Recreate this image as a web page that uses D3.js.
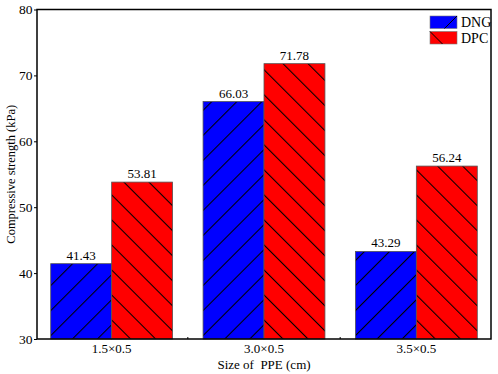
<!DOCTYPE html>
<html>
<head>
<meta charset="utf-8">
<script src="https://cdn.jsdelivr.net/npm/d3@7"></script>
<style>
	body { margin: 0; background: #fff; }
</style>
</head>
<body>
<div id="chart"></div>
<script>
// data
var sizes = ["1.5×0.5", "3.0×0.5", "3.5×0.5"];
var seriesNames = ["DNG", "DPC"];
var dngValues = [41.43, 66.03, 43.29];
var dpcValues = [53.81, 71.78, 56.24];
var yTicks = [30, 40, 50, 60, 70, 80];

var seriesColors = ["#0000ff", "#ff0000"];
var hatchRotate = [45, -45];
var FONT = "'Liberation Serif', 'Times New Roman', 'DejaVu Serif', serif";

// set the dimensions and margins of the graph
var margin = {top: 9.5, right: 7, bottom: 35, left: 37},
	width = 498 - margin.left - margin.right,
	height = 374 - margin.top - margin.bottom;

var svg = d3.select("#chart")
	.append("svg")
	.attr("width", width + margin.left + margin.right)
	.attr("height", height + margin.top + margin.bottom)
	.style("font-family", FONT);

// hatch patterns
var defs = svg.append("defs");
seriesNames.forEach(function(name, i) {
	var p = defs.append("pattern")
		.attr("id", "hatch-" + name)
		.attr("patternUnits", "userSpaceOnUse")
		.attr("width", 17.7)
		.attr("height", 10)
		.attr("patternTransform", "rotate(" + hatchRotate[i] + ")");
	p.append("rect")
		.attr("width", 17.7)
		.attr("height", 10)
		.attr("fill", seriesColors[i]);
	p.append("line")
		.attr("x1", 0.5).attr("x2", 0.5)
		.attr("y1", 0).attr("y2", 10)
		.attr("stroke", "#000")
		.attr("stroke-width", 1.1);
});

var g = svg.append("g")
	.attr("transform", "translate(" + margin.left + "," + margin.top + ")");

// scales
var x0 = d3.scaleBand()
	.domain(sizes)
	.range([0, width])
	.paddingInner(0.2)
	.paddingOuter(0.09);

var x1 = d3.scaleBand()
	.domain(seriesNames)
	.range([0, x0.bandwidth()]);

var y = d3.scaleLinear()
	.domain([30, 80])
	.range([height, 0]);

var rows = sizes.map(function(s, i) {
	return {size: s, values: [
		{name: "DNG", value: dngValues[i]},
		{name: "DPC", value: dpcValues[i]}
	]};
});

// bars
var groups = g.append("g")
	.selectAll("g")
	.data(rows)
	.enter()
	.append("g")
	.attr("transform", d => "translate(" + x0(d.size) + ",0)");

groups.selectAll("rect")
	.data(d => d.values)
	.enter()
	.append("rect")
	.attr("x", d => x1(d.name))
	.attr("y", d => y(d.value))
	.attr("width", x1.bandwidth())
	.attr("height", d => height - y(d.value))
	.attr("fill", d => "url(#hatch-" + d.name + ")")
	.attr("stroke", "#555")
	.attr("stroke-width", 0.8);

groups.selectAll("text")
	.data(d => d.values)
	.enter()
	.append("text")
	.attr("x", d => x1(d.name) + x1.bandwidth() / 2)
	.attr("y", d => y(d.value) - 4)
	.attr("text-anchor", "middle")
	.style("font-family", FONT)
	.style("font-size", "13px")
	.text(d => d.value.toFixed(2));

// Y axis
var yAxis = g.append("g")
	.call(d3.axisLeft(y)
		.tickValues(yTicks)
		.tickSize(3)
		.tickPadding(1.5));
yAxis.attr("font-family", null);
yAxis.selectAll("text")
	.style("font-family", FONT)
	.style("font-size", "13.5px");
yAxis.select(".domain").remove();

// X axis
var xAxis = g.append("g")
	.attr("transform", "translate(0," + height + ")")
	.call(d3.axisBottom(x0)
		.tickSize(0)
		.tickPadding(5));
xAxis.attr("font-family", null);
xAxis.selectAll("text")
	.style("font-family", FONT)
	.style("font-size", "13px");
xAxis.select(".domain").remove();

// small inner ticks between groups
g.append("g")
	.selectAll("line")
	.data(sizes.slice(1))
	.enter()
	.append("line")
	.attr("x1", d => x0(d) - x0.step() * x0.paddingInner() / 2)
	.attr("x2", d => x0(d) - x0.step() * x0.paddingInner() / 2)
	.attr("y1", height)
	.attr("y2", height - 2)
	.attr("stroke", "#000");

// frame
g.append("rect")
	.attr("width", width)
	.attr("height", height)
	.attr("fill", "none")
	.attr("stroke", "#000")
	.attr("stroke-width", 1.5);

// axis titles
svg.append("text")
	.attr("transform", "translate(15," + (margin.top + height / 2) + ")rotate(-90)")
	.attr("text-anchor", "middle")
	.style("font-family", FONT)
	.style("font-size", "12.5px")
	.text("Compressive strength (kPa)");

svg.append("text")
	.attr("x", margin.left + width / 2)
	.attr("y", 369)
	.attr("text-anchor", "middle")
	.style("font-family", FONT)
	.style("font-size", "13px")
	.style("white-space", "pre")
	.text("Size of  PPE (cm)");

// legend
var legend = svg.append("g")
	.attr("transform", "translate(430,16)");
var lg = legend.selectAll("g")
	.data(seriesNames)
	.enter()
	.append("g")
	.attr("transform", (d, i) => "translate(0," + i * 15.5 + ")");
lg.append("rect")
	.attr("width", 27)
	.attr("height", 12.5)
	.attr("fill", (d, i) => seriesColors[i])
	.attr("stroke", "#777")
	.attr("stroke-width", 0.6);
lg.append("line")
	.attr("x1", (d, i) => i === 0 ? 14.5 : 0)
	.attr("y1", (d, i) => i === 0 ? 12.5 : 0)
	.attr("x2", (d, i) => i === 0 ? 27 : 12.5)
	.attr("y2", (d, i) => i === 0 ? 0 : 12.5)
	.attr("stroke", "#000")
	.attr("stroke-width", 1);
lg.append("text")
	.attr("x", 31)
	.attr("y", 11)
	.style("font-family", FONT)
	.style("font-size", "14px")
	.text(d => d);
</script>
</body>
</html>
